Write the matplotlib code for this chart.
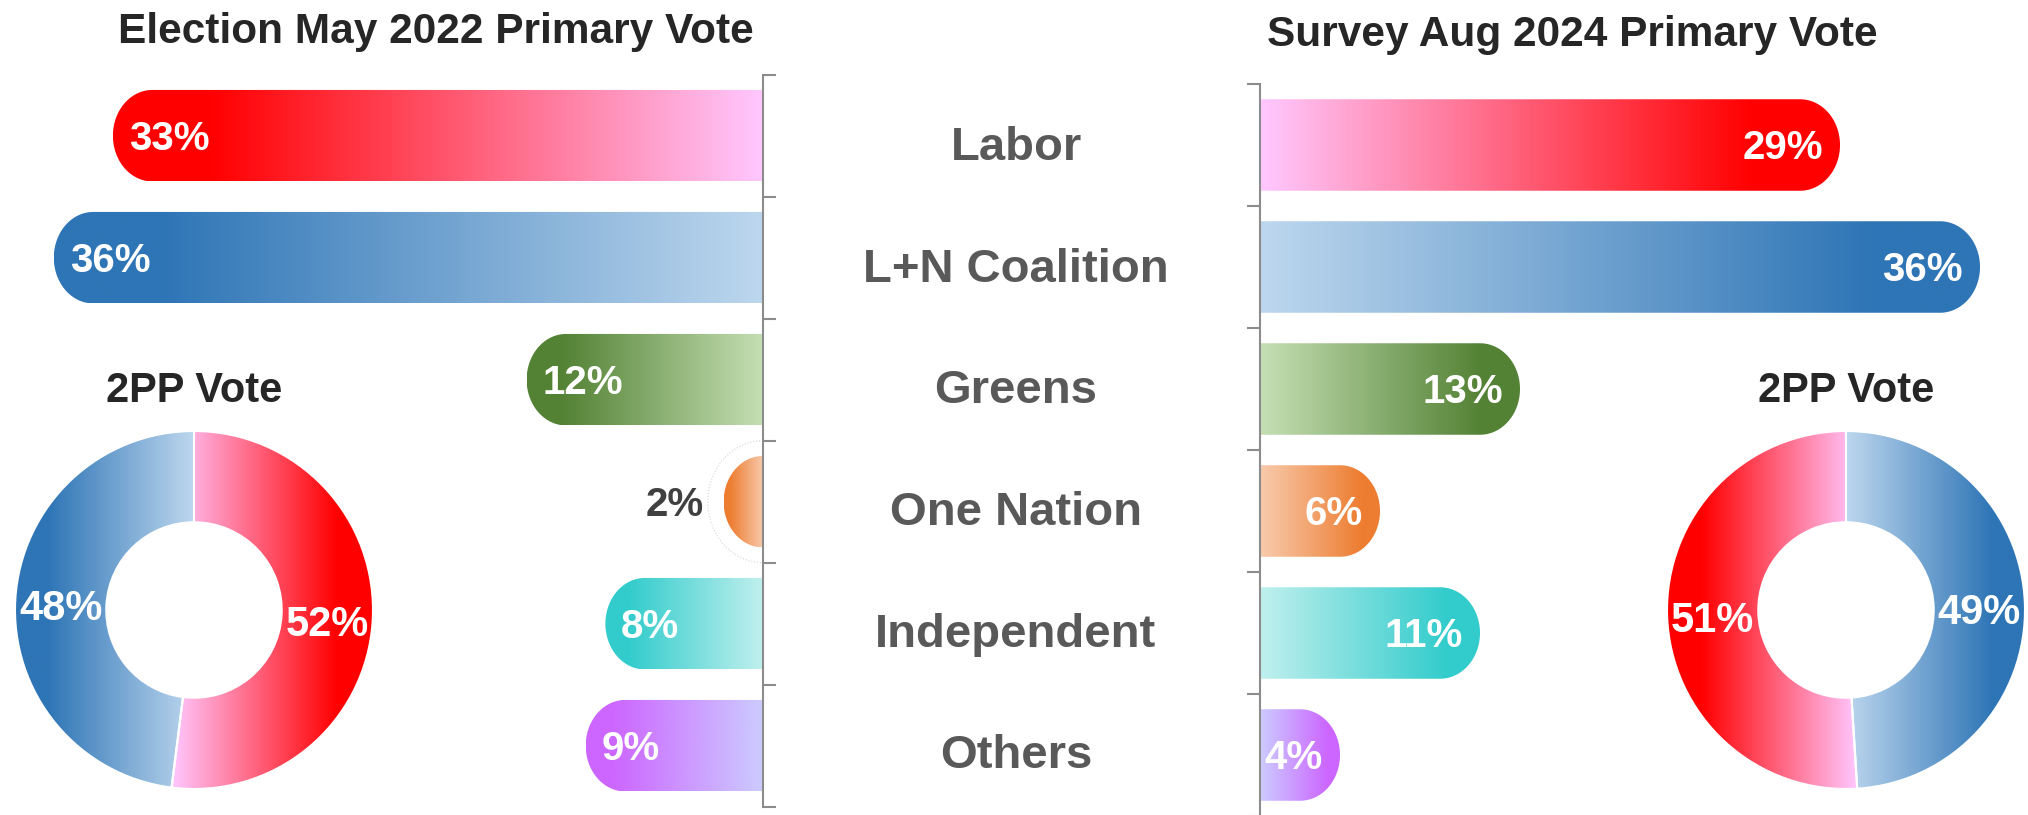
import numpy as np
import matplotlib
matplotlib.use("Agg")
import matplotlib.pyplot as plt
from matplotlib.colors import LinearSegmentedColormap
from matplotlib.patches import PathPatch, Ellipse
from matplotlib.path import Path

plt.rcParams['font.family'] = ['Liberation Sans', 'DejaVu Sans']
plt.rcParams['font.weight'] = 'bold'

# Datos
parties = ["Labor", "L+N Coalition", "Greens", "One Nation", "Independent", "Others"]
election_2022 = [33, 36, 12, 2, 8, 9]
survey_2024 = [29, 36, 13, 6, 11, 4]
tpp_2022 = [52, 48]   # Labor, Coalition
tpp_2024 = [51, 49]   # Labor, Coalition

light = ["#ffc8ff", "#bdd7ee", "#c5e0b4", "#f8cbad", "#c0f0ee", "#ccccff"]
dark = ["#ff0000", "#2e75b6", "#548235", "#ed7d31", "#33cccc", "#cc66ff"]
tpp_light = ["#ffc8ff", "#bdd7ee"]
tpp_dark = ["#ff0000", "#2e75b6"]

W, H = 2028, 815
AXIS_GRAY = "#8c8c8c"


def px(x0, top, w, h):
    return [x0 / W, 1 - (top + h) / H, w / W, h / H]


def ramp(c_light, c_dark, stop=0.85):
    return LinearSegmentedColormap.from_list("g", [(0, c_light), (stop, c_dark), (1, c_dark)])


def gradient_bar(ax, rect, c_light, c_dark, rx=2.0):
    L = rect.get_width()
    y0 = rect.get_y()
    h = rect.get_height()
    yc = y0 + h / 2
    r = min(rx, L)
    t = np.linspace(-np.pi / 2, np.pi / 2, 80)
    arc = np.column_stack([L - r + r * np.cos(t), yc + h / 2 * np.sin(t)])
    verts = np.vstack([[0, y0], arc, [0, y0 + h], [0, y0]])
    codes = [Path.MOVETO] + [Path.LINETO] * (len(verts) - 2) + [Path.CLOSEPOLY]
    patch = PathPatch(Path(verts, codes), facecolor="none", edgecolor="none")
    ax.add_patch(patch)
    im = ax.imshow(np.linspace(0, 1, 256)[None, :], cmap=ramp(c_light, c_dark),
                   extent=(0, L, y0 + h, y0), aspect="auto",
                   interpolation="bilinear", zorder=2)
    im.set_clip_path(patch)
    rect.set_visible(False)


def bar_panel(ax, values, side):
    y = np.arange(len(values))
    bars = ax.barh(y, values, height=0.75)
    for i, rect in enumerate(bars):
        gradient_bar(ax, rect, light[i], dark[i])
        v = values[i]
        if v < 4:
            ax.annotate(f"{v}%", xy=(v + 1.0, y[i]), xytext=(0, -10),
                        textcoords="offset points", ha="right", va="baseline",
                        fontsize=29, color="#404040")
        elif side == "left":
            ax.annotate(f"{v}%", xy=(v - 0.8, y[i]), xytext=(0, -10),
                        textcoords="offset points", ha="left", va="baseline",
                        fontsize=29, color="white", zorder=5)
        else:
            ax.annotate(f"{v}%", xy=(v - 0.85, y[i]), xytext=(0, -10),
                        textcoords="offset points", ha="right", va="baseline",
                        fontsize=29, color="white", zorder=5)
    ax.set_ylim(len(values) - 0.5, -0.5)
    ax.set_yticks(np.arange(-0.5, len(values)))
    ax.set_yticklabels([])
    ax.set_xticks([])
    for s in ax.spines.values():
        s.set_visible(False)
    ax.tick_params(axis="y", direction="out", length=9.5, width=1.5, color=AXIS_GRAY)
    if side == "left":
        ax.spines["right"].set_visible(True)
        ax.spines["right"].set_color(AXIS_GRAY)
        ax.spines["right"].set_linewidth(1.5)
        ax.yaxis.tick_right()
    else:
        ax.spines["left"].set_visible(True)
        ax.spines["left"].set_color(AXIS_GRAY)
        ax.spines["left"].set_linewidth(1.5)
    ax.set_facecolor("none")


def donut(ax, values, counterclock):
    wedges, _, autotexts = ax.pie(
        values, startangle=90, counterclock=counterclock, radius=1,
        wedgeprops=dict(width=0.51, facecolor="none", edgecolor="white", linewidth=1.5),
        autopct=lambda p: f"{p:.0f}%", pctdistance=0.746,
        textprops=dict(color="white", fontsize=30, fontweight="bold"))
    for i, w in enumerate(wedges):
        bb = w.get_path().get_extents()
        cx = (bb.x0 + bb.x1) / 2
        g = np.linspace(0, 1, 256)
        if cx < 0:
            g = g[::-1]
        im = ax.imshow(g[None, :], cmap=ramp(tpp_light[i], tpp_dark[i], 0.82),
                       extent=(bb.x0, bb.x1, bb.y0, bb.y1), aspect="equal",
                       interpolation="bilinear", zorder=0.5)
        im.set_clip_path(w)
        w.set_zorder(1)
    for t in autotexts:
        x, y = t.get_position()
        t.set_position((x, y - 0.10))
        t.set_va("baseline")
        t.set_zorder(3)
    ax.set_xlim(-1.02, 1.02)
    ax.set_ylim(-1.02, 1.02)
    ax.set_aspect("equal")
    ax.axis("off")


fig = plt.figure(figsize=(W / 100, H / 100), dpi=100)

# Barras izquierda (eje invertido)
axL = fig.add_axes(px(0, 74.7, 763, 732))
bar_panel(axL, election_2022, "left")
axL.set_xlim(763 / 19.7, 0)
axL.add_patch(Ellipse((0, parties.index("One Nation")), width=5.6, height=1.0,
                      fill=False, edgecolor="#d4d4d4", lw=0.8, ls=":"))

# Barras derecha
axR = fig.add_axes(px(1260, 84, 768, 732))
bar_panel(axR, survey_2024, "right")
axR.set_xlim(0, 768 / 20.0)

# Donas 2PP
R = 179 * 1.02
axD1 = fig.add_axes(px(194 - R, 610 - R, 2 * R, 2 * R))
donut(axD1, tpp_2022, counterclock=False)
axD2 = fig.add_axes(px(1846 - R, 610 - R, 2 * R, 2 * R))
donut(axD2, tpp_2024, counterclock=True)

# Textos
fig.text(436 / W, 1 - 43 / H, "Election May 2022 Primary Vote", ha="center",
         va="baseline", fontsize=30.5, color="#262626")
fig.text(1572 / W, 1 - 46 / H, "Survey Aug 2024 Primary Vote", ha="center",
         va="baseline", fontsize=30.5, color="#262626")
fig.text(194 / W, 1 - 401.7 / H, "2PP Vote", ha="center", va="baseline",
         fontsize=30, color="#262626")
fig.text(1846 / W, 1 - 401.7 / H, "2PP Vote", ha="center", va="baseline",
         fontsize=30, color="#262626")
for i, name in enumerate(parties):
    fig.text(1016 / W, 1 - (160 + i * 121.7) / H, name, ha="center", va="baseline",
             fontsize=34, color="#595959")

fig.savefig("out.png", dpi=100)
